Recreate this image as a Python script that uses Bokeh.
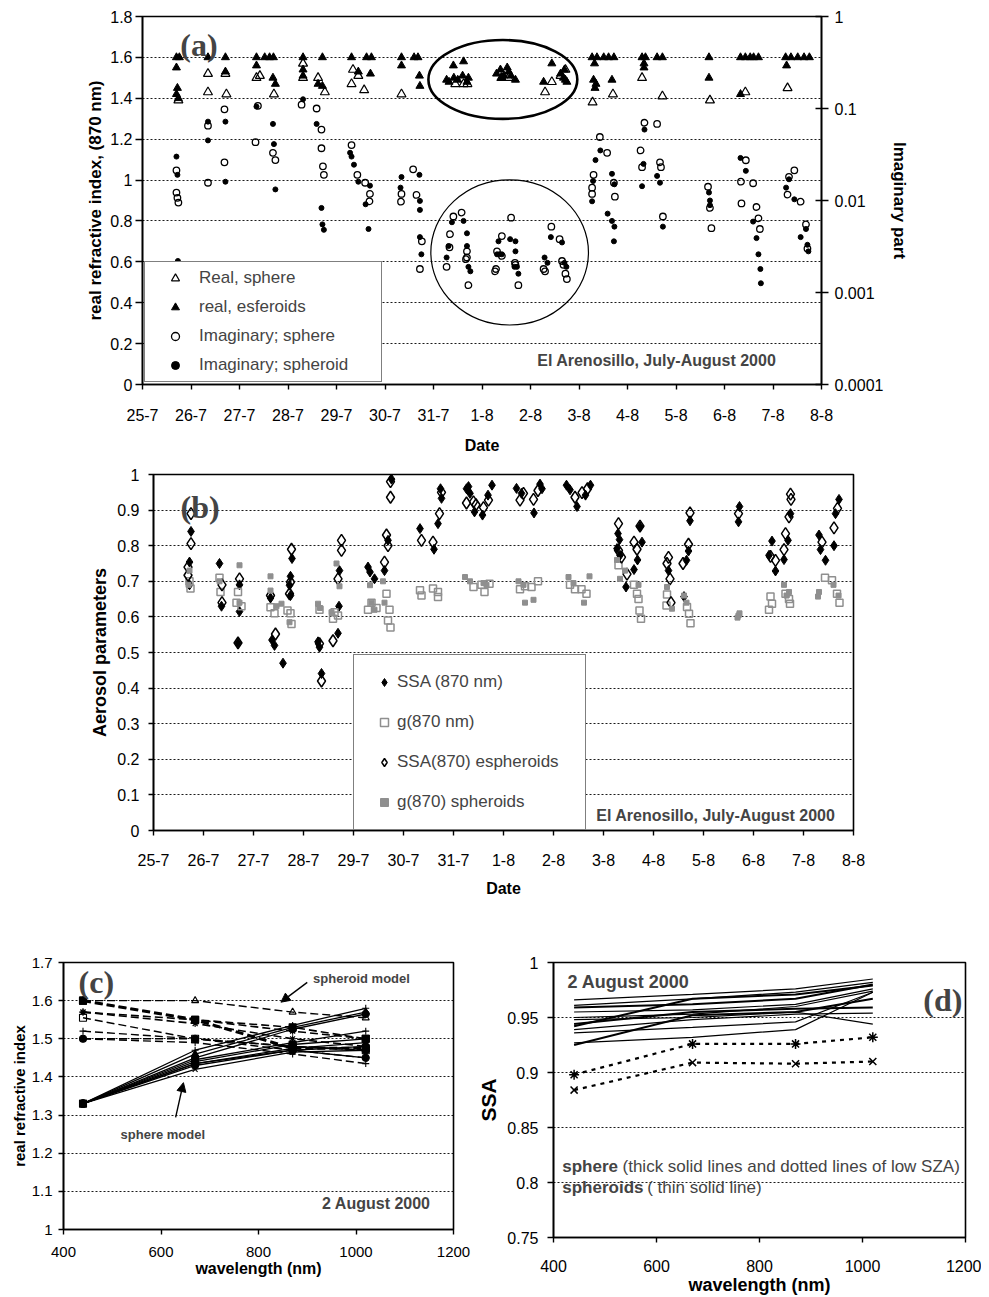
import json
from bokeh.plotting import figure
from bokeh.models import (Range1d, LogAxis, LogScale, FixedTicker, CustomJSTickFormatter,
                          Label, Arrow, NormalHead)
from bokeh.layouts import column, row
from bokeh.embed import file_html
from bokeh.resources import INLINE

SANS = "Liberation Sans"
SERIF = "Liberation Serif"
GRAY = "#8f8f8f"

# ---------------- data: panel (a) ----------------
date_labels = ["25-7", "26-7", "27-7", "28-7", "29-7", "30-7", "31-7", "1-8", "2-8",
               "3-8", "4-8", "5-8", "6-8", "7-8", "8-8"]
real_ticks = [0, 0.2, 0.4, 0.6, 0.8, 1.0, 1.2, 1.4, 1.6, 1.8]
imag_ticks = [0.0001, 0.001, 0.01, 0.1, 1]

real_sphere = [(0.74, 1.39), (1.35, 1.52), (1.35, 1.43), (1.71, 1.52), (1.73, 1.42),
               (2.35, 1.50), (2.42, 1.51), (2.71, 1.42), (3.31, 1.57), (3.31, 1.50),
               (3.62, 1.50), (3.76, 1.43), (4.34, 1.54), (4.45, 1.51), (4.31, 1.47),
               (4.57, 1.44), (5.34, 1.42), (6.45, 1.47), (6.62, 1.47), (6.70, 1.47),
               (7.40, 1.50), (7.55, 1.50), (8.30, 1.43), (8.44, 1.48), (8.62, 1.51),
               (8.72, 1.54), (9.28, 1.38), (9.70, 1.42), (10.30, 1.50), (10.72, 1.41),
               (11.70, 1.39), (12.43, 1.43), (13.30, 1.45)]
real_spheroid = [(0.70, 1.60), (0.76, 1.60), (0.70, 1.55), (0.72, 1.45), (0.70, 1.42), (0.74, 1.40),
                 (1.35, 1.60), (1.71, 1.60), (1.71, 1.53),
                 (2.35, 1.60), (2.52, 1.60), (2.62, 1.60), (2.70, 1.60), (2.35, 1.56), (2.69, 1.50), (2.74, 1.47),
                 (3.31, 1.60), (3.31, 1.54), (3.31, 1.51),
                 (3.71, 1.60), (3.62, 1.47), (3.71, 1.46),
                 (4.31, 1.60), (4.62, 1.60), (4.72, 1.60), (4.45, 1.53), (4.70, 1.52),
                 (5.34, 1.60), (5.60, 1.60), (5.68, 1.60), (5.34, 1.56), (5.71, 1.51), (5.72, 1.46),
                 (6.41, 1.56), (6.62, 1.58), (6.27, 1.49), (6.32, 1.48), (6.42, 1.50), (6.50, 1.49),
                 (6.60, 1.51), (6.69, 1.48), (6.72, 1.50),
                 (7.30, 1.52), (7.38, 1.54), (7.45, 1.51), (7.55, 1.53), (7.60, 1.51), (7.69, 1.49),
                 (7.40, 1.50), (7.52, 1.55),
                 (8.27, 1.48), (8.44, 1.57), (8.62, 1.52), (8.70, 1.54), (8.72, 1.49), (8.75, 1.48), (8.68, 1.50),
                 (9.27, 1.60), (9.37, 1.60), (9.51, 1.60), (9.61, 1.60), (9.72, 1.60), (9.32, 1.57),
                 (9.30, 1.49), (9.35, 1.47), (9.33, 1.45), (9.68, 1.49),
                 (10.30, 1.60), (10.37, 1.60), (10.61, 1.60), (10.72, 1.60), (10.34, 1.57), (10.34, 1.55),
                 (11.68, 1.60), (11.68, 1.50),
                 (12.33, 1.60), (12.43, 1.60), (12.53, 1.60), (12.60, 1.60), (12.70, 1.60), (12.33, 1.42),
                 (13.26, 1.60), (13.37, 1.60), (13.51, 1.60), (13.64, 1.60), (13.75, 1.60), (13.28, 1.56)]
imag_sphere = [(0.70, 0.0213), (0.70, 0.0122), (0.72, 0.0107), (0.74, 0.0095),
               (1.35, 0.065), (1.35, 0.0156), (1.69, 0.098), (1.69, 0.026),
               (2.38, 0.107), (2.33, 0.043), (2.69, 0.033), (2.74, 0.0275),
               (3.28, 0.110), (3.59, 0.10), (3.69, 0.059), (3.69, 0.037), (3.72, 0.0235), (3.74, 0.019),
               (4.31, 0.040), (4.43, 0.019), (4.59, 0.0156), (4.69, 0.0118), (4.68, 0.0098),
               (5.58, 0.0218), (5.34, 0.0118), (5.33, 0.0097), (5.65, 0.0115), (5.76, 0.0036), (5.72, 0.0018),
               (6.41, 0.0067), (6.58, 0.0074), (6.34, 0.0043), (6.33, 0.0031), (6.69, 0.0024),
               (6.27, 0.0019), (6.69, 0.0028), (6.67, 0.0023), (6.72, 0.0012),
               (7.29, 0.0018), (7.41, 0.0041), (7.31, 0.0028), (7.41, 0.0025), (7.69, 0.0020),
               (7.60, 0.0065), (7.27, 0.0017), (7.68, 0.0021), (7.75, 0.0012),
               (8.43, 0.0052), (8.60, 0.0038), (8.65, 0.0022), (8.68, 0.0020), (8.27, 0.0018),
               (8.30, 0.0017), (8.72, 0.0016), (8.75, 0.0014),
               (9.43, 0.049), (9.58, 0.033), (9.30, 0.019), (9.27, 0.0138), (9.27, 0.0118),
               (9.72, 0.0156), (9.74, 0.0110),
               (10.35, 0.070), (10.61, 0.068), (10.27, 0.035), (10.30, 0.023), (10.67, 0.026),
               (10.69, 0.023), (10.73, 0.0067),
               (11.66, 0.0141), (11.70, 0.0083), (11.73, 0.0050),
               (12.44, 0.0274), (12.34, 0.016), (12.59, 0.0154), (12.35, 0.0093), (12.66, 0.0085),
               (12.70, 0.0064), (12.73, 0.0049),
               (13.44, 0.0213), (13.33, 0.0181), (13.30, 0.0116), (13.57, 0.0097), (13.68, 0.0055),
               (13.71, 0.0030)]
imag_spheroid = [(0.70, 0.030), (0.72, 0.019), (0.73, 0.0022),
                 (1.35, 0.072), (1.35, 0.045), (1.71, 0.072), (1.71, 0.016),
                 (2.35, 0.105), (2.69, 0.068), (2.71, 0.041), (2.74, 0.0132),
                 (3.31, 0.126), (3.59, 0.068), (3.69, 0.0083), (3.71, 0.0055), (3.74, 0.0048),
                 (4.28, 0.033), (4.31, 0.030), (4.36, 0.0245), (4.45, 0.016), (4.69, 0.0145),
                 (4.60, 0.0091), (4.66, 0.0049),
                 (5.34, 0.018), (5.71, 0.019), (5.32, 0.0138), (5.72, 0.0099), (5.72, 0.0079),
                 (5.75, 0.0026), (5.72, 0.0040),
                 (6.38, 0.0058), (6.69, 0.0044), (6.31, 0.0032), (6.69, 0.0032), (6.27, 0.0024),
                 (6.62, 0.0060), (6.72, 0.0019), (6.76, 0.0017),
                 (7.34, 0.0036), (7.36, 0.0026), (7.58, 0.0038), (7.69, 0.0036), (7.69, 0.0028),
                 (7.67, 0.0019), (7.31, 0.0026), (7.41, 0.0026), (7.72, 0.0019), (7.75, 0.0016),
                 (8.42, 0.0040), (8.65, 0.0035), (8.29, 0.0024), (8.74, 0.0019), (8.35, 0.0021), (8.70, 0.0021),
                 (9.34, 0.0275), (9.44, 0.035), (9.29, 0.0163), (9.27, 0.0098), (9.68, 0.0195),
                 (9.73, 0.0150), (9.59, 0.0072), (9.68, 0.0060), (9.73, 0.0052), (9.72, 0.0036),
                 (10.35, 0.059), (10.33, 0.025), (10.61, 0.0185), (10.67, 0.0156), (10.30, 0.0143), (10.73, 0.0052),
                 (11.68, 0.0122), (11.70, 0.0100), (11.70, 0.0089),
                 (12.33, 0.029), (12.44, 0.021), (12.59, 0.0059), (12.66, 0.0039), (12.70, 0.0026),
                 (12.74, 0.0018), (12.75, 0.00126),
                 (13.33, 0.0170), (13.27, 0.0138), (13.44, 0.0103), (13.57, 0.0040), (13.68, 0.0049),
                 (13.71, 0.0033), (13.73, 0.0028)]
# highlighted groups (centre day, centre value, width in days, height in index units)
oval_real = [7.43, 1.492, 3.07, 0.386]
oval_imag = [7.57, 0.646, 3.25, 0.71]

# ---------------- data: panel (b) ----------------
aer_ticks = [0, 0.1, 0.2, 0.3, 0.4, 0.5, 0.6, 0.7, 0.8, 0.9, 1.0]
ssa_870 = [(0.75, 0.84), (0.72, 0.754), (0.72, 0.69), (1.32, 0.75), (1.36, 0.63),
           (1.72, 0.69), (1.72, 0.615), (1.69, 0.527),
           (2.34, 0.653), (2.37, 0.535), (2.42, 0.52), (2.59, 0.47), (2.77, 0.764), (2.74, 0.714),
           (2.72, 0.689), (2.74, 0.66),
           (3.29, 0.53), (3.32, 0.515), (3.36, 0.441), (3.72, 0.73), (3.71, 0.63), (3.69, 0.554),
           (4.29, 0.74), (4.33, 0.726), (4.42, 0.707), (4.69, 0.815), (4.62, 0.73), (4.76, 0.987),
           (5.33, 0.848), (5.61, 0.79), (5.69, 0.862), (5.74, 0.96), (5.76, 0.933),
           (6.26, 0.96), (6.30, 0.966), (6.33, 0.947), (6.42, 0.895), (6.58, 0.886), (6.69, 0.942), (6.77, 0.97),
           (7.26, 0.961), (7.36, 0.947), (7.61, 0.892), (7.73, 0.973), (7.77, 0.96),
           (8.26, 0.97), (8.33, 0.957), (8.47, 0.91), (8.64, 0.942), (8.74, 0.97),
           (9.29, 0.834), (9.32, 0.817), (9.27, 0.792), (9.33, 0.773), (9.77, 0.81), (9.73, 0.853),
           (9.68, 0.76), (9.61, 0.733), (9.45, 0.684),
           (10.30, 0.73), (10.73, 0.87), (10.70, 0.785), (10.66, 0.759), (10.61, 0.657),
           (11.72, 0.91), (11.70, 0.867),
           (12.37, 0.813), (12.31, 0.773), (12.44, 0.729), (12.61, 0.761), (12.74, 0.89), (12.69, 0.815),
           (13.31, 0.83), (13.34, 0.789), (13.44, 0.759), (13.61, 0.80), (13.64, 0.89), (13.71, 0.93)]
g_870 = [(0.72, 0.70), (0.74, 0.68), (1.32, 0.71), (1.34, 0.67), (1.69, 0.67), (1.66, 0.64), (1.76, 0.63),
         (2.34, 0.627), (2.42, 0.61), (2.68, 0.618), (2.74, 0.61), (2.76, 0.58),
         (3.32, 0.62), (3.59, 0.595), (3.69, 0.604), (3.62, 0.613),
         (4.36, 0.64), (4.29, 0.62), (4.46, 0.625), (4.66, 0.665), (4.72, 0.62), (4.69, 0.59), (4.74, 0.57),
         (5.33, 0.675), (5.36, 0.66), (5.59, 0.68), (5.69, 0.67), (5.69, 0.656),
         (6.40, 0.684), (6.56, 0.69), (6.62, 0.67), (6.72, 0.693),
         (7.33, 0.678), (7.43, 0.686), (7.56, 0.684), (7.69, 0.70),
         (8.33, 0.69), (8.43, 0.678), (8.56, 0.678), (8.66, 0.665),
         (9.30, 0.745), (9.61, 0.69), (9.67, 0.665), (9.70, 0.65), (9.72, 0.618), (9.75, 0.595),
         (10.27, 0.663), (10.26, 0.632), (10.67, 0.628), (10.71, 0.609), (10.74, 0.582),
         (12.34, 0.657), (12.37, 0.637), (12.31, 0.62), (12.64, 0.665), (12.71, 0.65), (12.73, 0.637),
         (13.43, 0.71), (13.57, 0.703), (13.67, 0.665), (13.72, 0.64)]
ssa_870_spheroids = [(0.75, 0.89), (0.75, 0.806), (0.69, 0.74), (0.69, 0.717),
                     (1.37, 0.69), (1.37, 0.64), (1.72, 0.707), (1.69, 0.527),
                     (2.34, 0.66), (2.44, 0.552), (2.76, 0.79), (2.74, 0.698), (2.72, 0.665),
                     (3.32, 0.525), (3.36, 0.42),
                     (3.76, 0.815), (3.76, 0.787), (3.69, 0.707), (3.59, 0.533),
                     (4.66, 0.83), (4.69, 0.80), (4.62, 0.754), (4.74, 0.98), (4.74, 0.936),
                     (5.36, 0.815), (5.59, 0.81), (5.72, 0.89), (5.76, 0.95),
                     (6.26, 0.92), (6.40, 0.923), (6.45, 0.915), (6.60, 0.907), (6.70, 0.928),
                     (7.40, 0.947), (7.33, 0.928), (7.60, 0.93), (7.69, 0.955),
                     (8.43, 0.936), (8.57, 0.949), (8.68, 0.96),
                     (9.30, 0.862), (9.30, 0.787), (9.36, 0.768), (9.61, 0.81), (9.73, 0.855),
                     (9.67, 0.79), (9.47, 0.72),
                     (10.30, 0.767), (10.27, 0.75), (10.33, 0.707), (10.35, 0.64), (10.73, 0.892),
                     (10.70, 0.804), (10.59, 0.75),
                     (11.70, 0.89),
                     (12.34, 0.77), (12.44, 0.759), (12.61, 0.789), (12.64, 0.834), (12.71, 0.881),
                     (12.74, 0.945), (12.75, 0.93),
                     (13.37, 0.81), (13.61, 0.85), (13.68, 0.905)]
g_870_spheroids = [(0.72, 0.73), (0.70, 0.69), (1.32, 0.70), (1.72, 0.745), (1.72, 0.64),
                   (2.34, 0.714), (2.34, 0.674), (2.46, 0.63), (2.56, 0.637), (2.72, 0.585),
                   (3.29, 0.637), (3.33, 0.625), (3.66, 0.75), (3.72, 0.686), (3.56, 0.613),
                   (4.33, 0.689), (4.36, 0.64), (4.42, 0.62), (4.59, 0.70), (4.62, 0.64),
                   (6.23, 0.712), (6.33, 0.70), (6.60, 0.695), (6.66, 0.69),
                   (7.30, 0.70), (7.43, 0.64), (7.60, 0.648), (7.40, 0.69),
                   (8.30, 0.712), (8.61, 0.64), (8.72, 0.714), (8.40, 0.695),
                   (9.27, 0.76), (9.43, 0.73), (9.33, 0.707), (9.70, 0.69),
                   (10.27, 0.684), (10.37, 0.623), (10.61, 0.66), (10.66, 0.64),
                   (11.70, 0.604), (11.72, 0.61), (11.68, 0.598),
                   (12.61, 0.69), (12.66, 0.66), (12.71, 0.67),
                   (13.29, 0.657), (13.31, 0.67), (13.60, 0.69), (13.70, 0.66)]

# ---------------- data: panel (c) ----------------
wavelength = [440, 670, 870, 1020]
rri_ticks = [1.0, 1.1, 1.2, 1.3, 1.4, 1.5, 1.6, 1.7]
wl_ticks = [400, 600, 800, 1000, 1200]
rri_sphere_1 = [1.33, 1.47, 1.535, 1.58]
rri_sphere_2 = [1.33, 1.46, 1.53, 1.57]
rri_sphere_3 = [1.33, 1.45, 1.525, 1.565]
rri_sphere_4 = [1.33, 1.445, 1.49, 1.52]
rri_sphere_5 = [1.33, 1.44, 1.485, 1.50]
rri_sphere_6 = [1.33, 1.435, 1.475, 1.49]
rri_sphere_7 = [1.33, 1.43, 1.47, 1.48]
rri_sphere_8 = [1.33, 1.42, 1.465, 1.47]
rri_sphere_9 = [1.33, 1.435, 1.47, 1.45]
rri_spheroid_1 = [1.60, 1.60, 1.57, 1.555]
rri_spheroid_2 = [1.60, 1.55, 1.53, 1.50]
rri_spheroid_3 = [1.57, 1.55, 1.52, 1.50]
rri_spheroid_4 = [1.57, 1.54, 1.50, 1.48]
rri_spheroid_5 = [1.555, 1.50, 1.48, 1.47]
rri_spheroid_6 = [1.52, 1.50, 1.47, 1.45]
rri_spheroid_7 = [1.50, 1.50, 1.48, 1.47]
rri_spheroid_8 = [1.50, 1.49, 1.46, 1.435]
rri_spheroid_9 = [1.60, 1.55, 1.475, 1.475]

# ---------------- data: panel (d) ----------------
ssa_ticks = [0.75, 0.8, 0.85, 0.9, 0.95, 1.0]
ssa_line_1 = [0.966, 0.971, 0.976, 0.985]
ssa_line_2 = [0.961, 0.967, 0.973, 0.982]
ssa_line_3 = [0.959, 0.962, 0.967, 0.980]
ssa_line_4 = [0.955, 0.957, 0.962, 0.976]
ssa_line_5 = [0.942, 0.967, 0.971, 0.979]
ssa_line_6 = [0.950, 0.953, 0.960, 0.974]
ssa_line_7 = [0.948, 0.950, 0.955, 0.944]
ssa_line_8 = [0.944, 0.955, 0.958, 0.959]
ssa_line_9 = [0.939, 0.948, 0.953, 0.954]
ssa_line_10 = [0.936, 0.941, 0.946, 0.973]
ssa_line_11 = [0.927, 0.932, 0.939, 0.973]
ssa_line_12 = [0.925, 0.952, 0.955, 0.967]
ssa_low_sza_1 = [0.898, 0.926, 0.926, 0.932]
ssa_low_sza_2 = [0.884, 0.909, 0.908, 0.910]


def unzip(pairs):
    return [a for a, _ in pairs], [b for _, b in pairs]


def num_fmt():
    return CustomJSTickFormatter(code="return String(Math.round(tick*1000)/1000);")


def date_fmt():
    return CustomJSTickFormatter(code="const l = " + json.dumps(date_labels) +
                                 "; const v = l[Math.round(tick)]; return v === undefined ? '' : v;")


def style_axis(ax, tick_px, title_px, tick_out, lab_standoff, title_standoff, tick_in=0):
    ax.major_label_text_font = SANS
    ax.major_label_text_font_size = f"{tick_px}px"
    ax.major_label_text_color = "black"
    ax.axis_label_text_font = SANS
    ax.axis_label_text_font_style = "bold"
    ax.axis_label_text_font_size = f"{title_px}px"
    ax.axis_label_text_color = "black"
    ax.axis_line_color = "black"
    ax.axis_line_width = 1.6
    ax.major_tick_line_color = "black"
    ax.major_tick_line_width = 1.4
    ax.major_tick_out = tick_out
    ax.major_tick_in = tick_in
    ax.minor_tick_line_color = None
    ax.major_label_standoff = lab_standoff
    ax.axis_label_standoff = title_standoff


def base_fig(fw, fh, bl, br, bt, bb, xr, yr):
    p = figure(frame_width=fw, frame_height=fh, min_border_left=bl, min_border_right=br,
               min_border_top=bt, min_border_bottom=bb, x_range=xr, y_range=yr,
               output_backend="svg", toolbar_location=None)
    p.outline_line_color = "black"
    p.outline_line_width = 1.6
    p.xgrid.visible = False
    p.ygrid.grid_line_color = "black"
    p.ygrid.grid_line_dash = "2 2"
    p.ygrid.grid_line_width = 0.9
    p.background_fill_color = "white"
    p.border_fill_color = "white"
    return p


def style_legend(lg, pad, spacing, gw, lw, loc):
    lg.location = loc
    lg.margin = 0
    lg.padding = pad
    lg.spacing = spacing
    lg.glyph_width = gw
    lg.glyph_height = 20
    lg.label_height = 20
    lg.label_width = lw
    lg.label_standoff = 0
    lg.label_text_font = SANS
    lg.label_text_font_size = "17px"
    lg.border_line_color = "black"
    lg.border_line_width = 1.5
    lg.background_fill_color = "white"
    lg.background_fill_alpha = 1.0


# ================= panel (a) =================
pa = base_fig(679, 368, 142, 160, 16, 78, Range1d(0, 14), Range1d(0, 1.8))
pa.extra_y_ranges = {"imag": Range1d(0.0001, 1)}
pa.extra_y_scales = {"imag": LogScale()}

ya = pa.yaxis[0]
ya.ticker = FixedTicker(ticks=real_ticks)
ya.formatter = num_fmt()
ya.axis_label = "real refractive index, (870 nm)"
style_axis(ya, 16, 17, 7, 3, 2)
pa.ygrid.ticker = FixedTicker(ticks=real_ticks)

xa = pa.xaxis[0]
xa.ticker = FixedTicker(ticks=list(range(15)))
xa.formatter = date_fmt()
xa.axis_label = "Date"
style_axis(xa, 16, 16, 5, 19, 13)

ra = LogAxis(y_range_name="imag", axis_label="Imaginary part",
             ticker=FixedTicker(ticks=imag_ticks),
             formatter=CustomJSTickFormatter(code="return String(tick);"))
style_axis(ra, 16, 17, 7, 6, 4, tick_in=6)
pa.add_layout(ra, "right")

d, v = unzip(real_sphere)
pa.scatter(d, v, marker="triangle", size=9, fill_color=None, line_color="black",
           line_width=1.2, legend_label="Real, sphere")
d, v = unzip(real_spheroid)
pa.scatter(d, v, marker="triangle", size=8, fill_color="black", line_color="black",
           legend_label="real, esferoids")
d, v = unzip(imag_sphere)
pa.scatter(d, v, marker="circle", size=6.5, fill_color=None, line_color="black", line_width=1.3,
           y_range_name="imag", legend_label="Imaginary; sphere")
d, v = unzip(imag_spheroid)
pa.scatter(d, v, marker="circle", size=5, fill_color="black", line_color="black",
           y_range_name="imag", legend_label="Imaginary; spheroid")

pa.ellipse(x=[oval_real[0]], y=[oval_real[1]], width=oval_real[2], height=oval_real[3],
           fill_color=None, line_color="black", line_width=2.6)
pa.ellipse(x=[oval_imag[0]], y=[oval_imag[1]], width=oval_imag[2], height=oval_imag[3],
           fill_color=None, line_color="black", line_width=1.2)

style_legend(pa.legend[0], 6, 9, 48, 176, (2, 2))

pa.add_layout(Label(x=0.78, y=1.663, text="(a)", text_font=SERIF, text_font_style="bold",
                    text_font_size="32px", text_align="left", text_baseline="middle"))
pa.add_layout(Label(x=13.07, y=0.117, text="El Arenosillo, July-August 2000", text_font=SANS,
                    text_font_style="bold", text_font_size="16px", text_align="right",
                    text_baseline="middle"))

# ================= panel (b) =================
pb = base_fig(700, 356, 153, 20, 12, 115, Range1d(0, 14), Range1d(0, 1))
yb = pb.yaxis[0]
yb.ticker = FixedTicker(ticks=aer_ticks)
yb.formatter = num_fmt()
yb.axis_label = "Aerosol parameters"
style_axis(yb, 16, 18, 5, 9, 4)
pb.ygrid.ticker = FixedTicker(ticks=aer_ticks)

xb = pb.xaxis[0]
xb.ticker = FixedTicker(ticks=list(range(15)))
xb.formatter = date_fmt()
xb.axis_label = "Date"
style_axis(xb, 16, 16, 5, 18, 11)

d, v = unzip(ssa_870)
pb.scatter(d, v, marker="diamond", size=10, fill_color="black", line_color="black",
           legend_label="SSA (870 nm)")
d, v = unzip(g_870)
pb.scatter(d, v, marker="square", size=7, fill_color=None, line_color=GRAY, line_width=1.5,
           legend_label="g(870 nm)")
d, v = unzip(ssa_870_spheroids)
pb.scatter(d, v, marker="diamond", size=12, fill_color=None, line_color="black", line_width=1.5,
           legend_label="SSA(870) espheroids")
d, v = unzip(g_870_spheroids)
pb.scatter(d, v, marker="square", size=5, fill_color=GRAY, line_color=GRAY,
           legend_label="g(870) spheroids")

style_legend(pb.legend[0], 17, 20, 26, 171, (200, 0))

pb.add_layout(Label(x=0.54, y=0.908, text="(b)", text_font=SERIF, text_font_style="bold",
                    text_font_size="32px", text_align="left", text_baseline="middle"))
pb.add_layout(Label(x=13.64, y=0.041, text="El Arenosillo, July-August 2000", text_font=SANS,
                    text_font_style="bold", text_font_size="16px", text_align="right",
                    text_baseline="middle"))

# ================= panel (c) =================
pc = base_fig(390, 267, 63, 20, 17, 66, Range1d(400, 1200), Range1d(1, 1.7))
yc = pc.yaxis[0]
yc.ticker = FixedTicker(ticks=rri_ticks)
yc.formatter = num_fmt()
yc.axis_label = "real refractive index"
style_axis(yc, 15, 15, 5, 6, 1)
pc.ygrid.ticker = FixedTicker(ticks=rri_ticks)
xc = pc.xaxis[0]
xc.ticker = FixedTicker(ticks=wl_ticks)
xc.formatter = num_fmt()
xc.axis_label = "wavelength (nm)"
style_axis(xc, 15, 16, 5, 12, 0)

sphere_series = [(rri_sphere_1, "cross", "black"), (rri_sphere_2, "triangle", "black"),
                 (rri_sphere_3, "circle", "black"), (rri_sphere_4, "cross", "black"),
                 (rri_sphere_5, "square", "black"), (rri_sphere_6, "diamond", "black"),
                 (rri_sphere_7, "circle", "black"), (rri_sphere_8, "x", "black"),
                 (rri_sphere_9, "circle", "black")]
for vals, mk, fc in sphere_series:
    pc.line(wavelength, vals, line_color="black", line_width=1.3)
    pc.scatter(wavelength, vals, marker=mk, size=7, fill_color=fc, line_color="black", line_width=1.1)

spheroid_series = [(rri_spheroid_1, "triangle", None, 1.4), (rri_spheroid_2, "square", "black", 1.6),
                   (rri_spheroid_3, "asterisk", None, 1.6), (rri_spheroid_4, "asterisk", None, 1.6),
                   (rri_spheroid_5, "square", None, 1.4), (rri_spheroid_6, "cross", None, 1.4),
                   (rri_spheroid_7, "circle", "black", 1.6), (rri_spheroid_8, "cross", None, 1.4),
                   (rri_spheroid_9, "square", "black", 3.0)]
for vals, mk, fc, lw in spheroid_series:
    pc.line(wavelength, vals, line_color="black", line_width=lw, line_dash="8 4")
    pc.scatter(wavelength, vals, marker=mk, size=7, fill_color=fc, line_color="black", line_width=1.1)

pc.add_layout(Arrow(end=NormalHead(size=9, fill_color="black", line_color="black"),
                    x_start=900, y_start=1.648, x_end=846, y_end=1.596,
                    line_color="black", line_width=1.4))
pc.add_layout(Arrow(end=NormalHead(size=9, fill_color="black", line_color="black"),
                    x_start=630, y_start=1.294, x_end=646, y_end=1.385,
                    line_color="black", line_width=1.4))
pc.add_layout(Label(x=912, y=1.658, text="spheroid model", text_font=SANS, text_font_style="bold",
                    text_font_size="13px", text_align="left", text_baseline="middle"))
pc.add_layout(Label(x=517, y=1.249, text="sphere model", text_font=SANS, text_font_style="bold",
                    text_font_size="13px", text_align="left", text_baseline="middle"))
pc.add_layout(Label(x=431, y=1.650, text="(c)", text_font=SERIF, text_font_style="bold",
                    text_font_size="32px", text_align="left", text_baseline="middle"))
pc.add_layout(Label(x=1153, y=1.068, text="2 August 2000", text_font=SANS, text_font_style="bold",
                    text_font_size="16px", text_align="right", text_baseline="middle"))

# ================= panel (d) =================
pd_ = base_fig(412, 275, 80, 16, 17, 58, Range1d(400, 1200), Range1d(0.75, 1))
yd = pd_.yaxis[0]
yd.ticker = FixedTicker(ticks=ssa_ticks)
yd.formatter = num_fmt()
yd.axis_label = "SSA"
style_axis(yd, 16, 21, 6, 9, 4)
pd_.ygrid.ticker = FixedTicker(ticks=ssa_ticks)
xd = pd_.xaxis[0]
xd.ticker = FixedTicker(ticks=wl_ticks)
xd.formatter = num_fmt()
xd.axis_label = "wavelength (nm)"
style_axis(xd, 16, 18, 5, 17, 0)

thin_lines = [ssa_line_1, ssa_line_2, ssa_line_4, ssa_line_6, ssa_line_7, ssa_line_9, ssa_line_10, ssa_line_11]
thick_lines = [ssa_line_3, ssa_line_5, ssa_line_8, ssa_line_12]
for vals in thin_lines:
    pd_.line(wavelength, vals, line_color="black", line_width=1.2)
for vals in thick_lines:
    pd_.line(wavelength, vals, line_color="black", line_width=2.0)
pd_.line(wavelength, ssa_low_sza_1, line_color="black", line_width=2.2, line_dash="4 5")
pd_.scatter(wavelength, ssa_low_sza_1, marker="asterisk", size=10, line_color="black", line_width=1.5)
pd_.line(wavelength, ssa_low_sza_2, line_color="black", line_width=2.2, line_dash="4 5")
pd_.scatter(wavelength, ssa_low_sza_2, marker="x", size=10, line_color="black", line_width=1.5)

pd_.add_layout(Label(x=427, y=0.982, text="2 August 2000", text_font=SANS, text_font_style="bold",
                     text_font_size="18px", text_align="left", text_baseline="middle"))
pd_.add_layout(Label(x=1118, y=0.966, text="(d)", text_font=SERIF, text_font_style="bold",
                     text_font_size="32px", text_align="left", text_baseline="middle"))
pd_.add_layout(Label(x=417, y=0.8145, text="sphere", text_font=SANS, text_font_style="bold",
                     text_font_size="17px", text_align="left", text_baseline="middle"))
pd_.add_layout(Label(x=534, y=0.8145, text="(thick solid lines and dotted lines of low SZA)",
                     text_font=SANS, text_font_size="17px", text_align="left", text_baseline="middle"))
pd_.add_layout(Label(x=417, y=0.7955, text="spheroids", text_font=SANS, text_font_style="bold",
                     text_font_size="17px", text_align="left", text_baseline="middle"))
pd_.add_layout(Label(x=582, y=0.7955, text="( thin solid line)", text_font=SANS,
                     text_font_size="17px", text_align="left", text_baseline="middle"))

layout = column(row(pa, spacing=0), row(pb, spacing=0), row(pc, pd_, spacing=0), spacing=0)
open("out.html", "w").write(file_html(layout, INLINE, title="Aerosol parameters"))
